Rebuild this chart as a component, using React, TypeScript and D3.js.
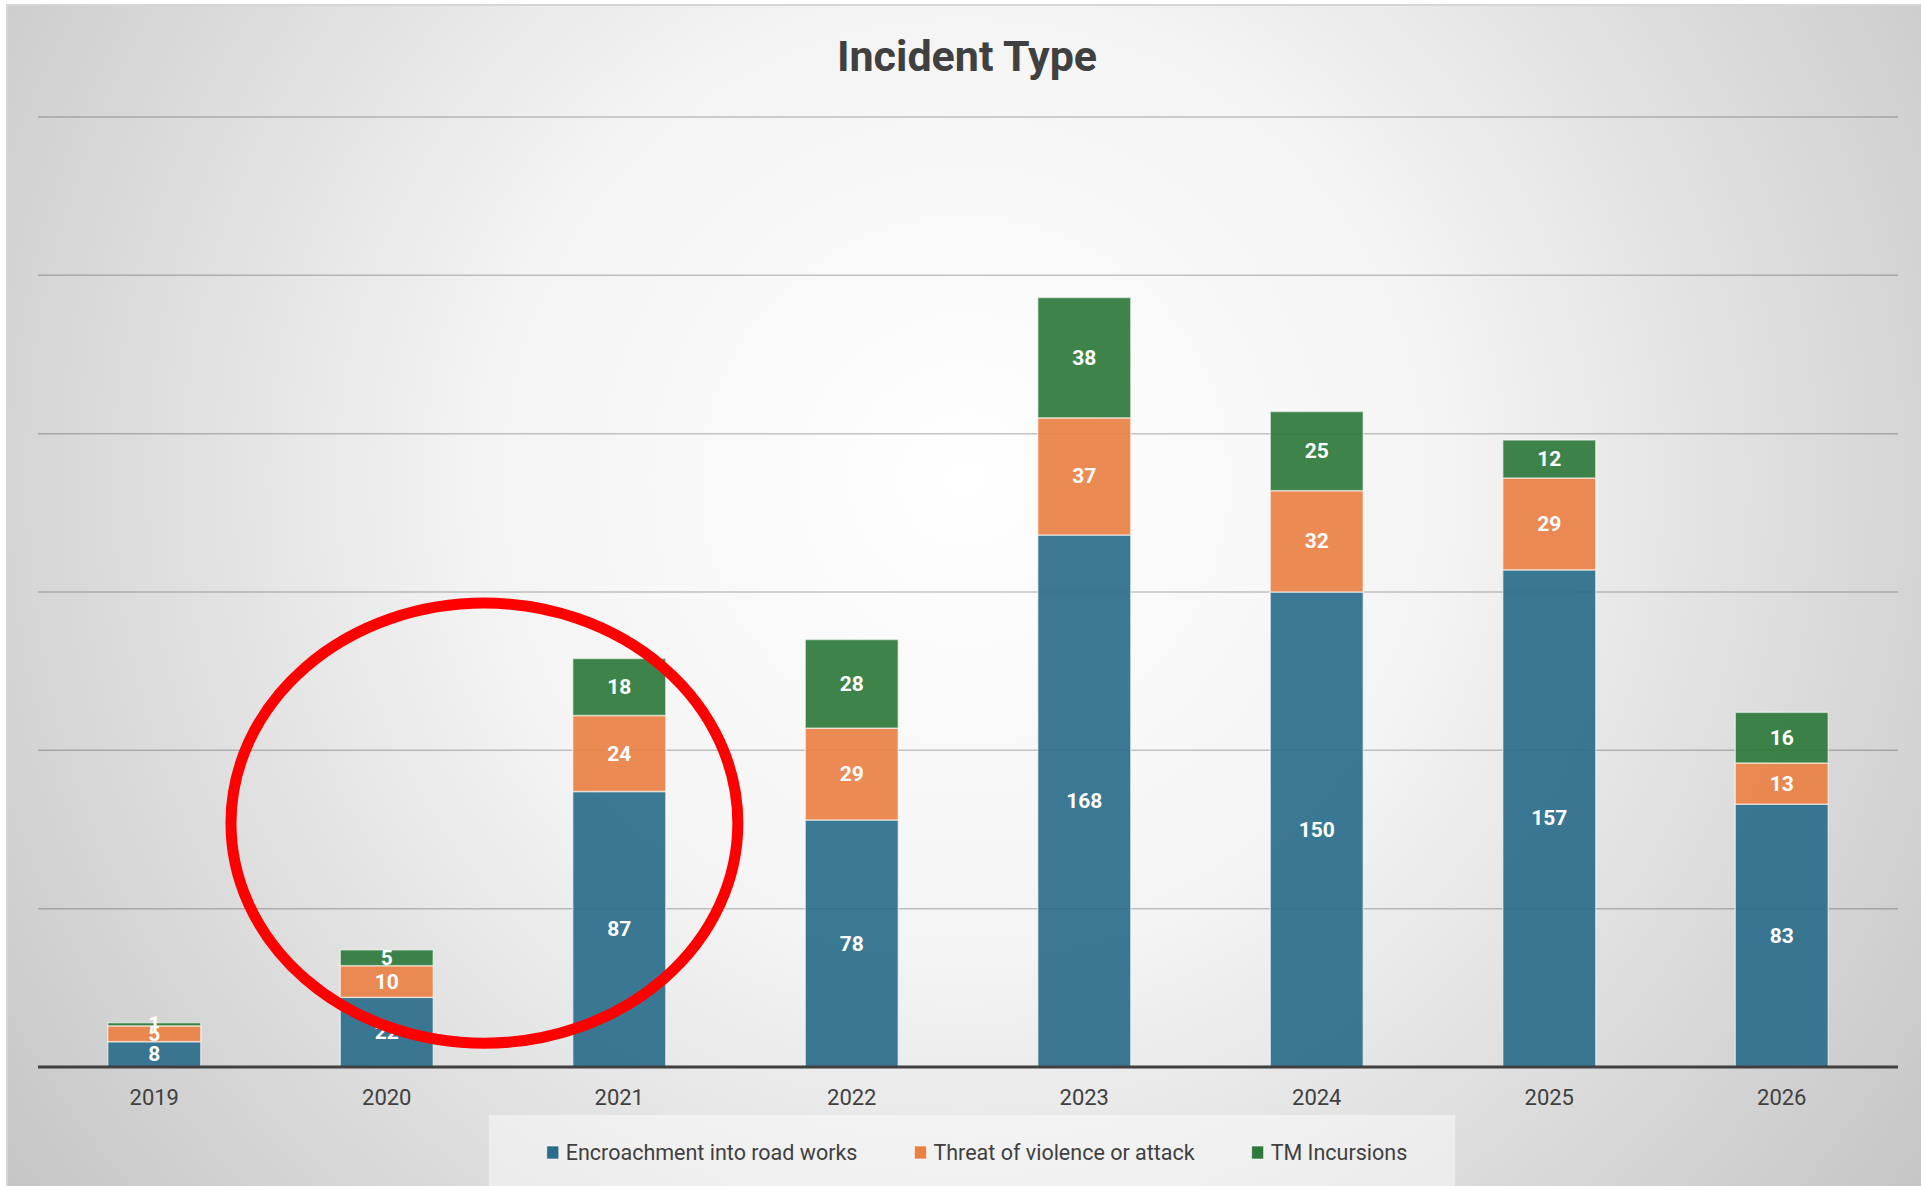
import React, { useEffect, useRef } from 'react';
import * as d3 from 'd3';

const years = ['2019', '2020', '2021', '2022', '2023', '2024', '2025', '2026'];
const encroachment = [8, 22, 87, 78, 168, 150, 157, 83];
const threat = [5, 10, 24, 29, 37, 32, 29, 13];
const tmIncursions = [1, 5, 18, 28, 38, 25, 12, 16];
const seriesKeys = ['encroachment', 'threat', 'tm'];
const seriesNames = ['Encroachment into road works', 'Threat of violence or attack', 'TM Incursions'];
const seriesColors = ['#2a6c8a', '#ea8044', '#2e7a3b'];
const yTicks = [50, 100, 150, 200, 250, 300];

// annotation ellipse, in data units (x: category steps from 2020, y: value)
const circleNote = { from: '2020', dx: 0.42, rx: 1.09, cy: 77, ry: 69.5 };

const WIDTH = 1921;
const HEIGHT = 1186;

const App: React.FC = () => {
  const ref = useRef<SVGSVGElement>(null);

  useEffect(() => {
    if (!ref.current) return;
    const svg = d3.select(ref.current);
    svg.selectAll('*').remove();

    const margin = { top: 117, right: 23, bottom: 119, left: 38 };
    const plotBottom = HEIGHT - margin.bottom;
    const plotRight = WIDTH - margin.right;
    const font = 'Roboto, "Open Sans", sans-serif';

    // Background
    const defs = svg.append('defs');
    const grad = defs.append('radialGradient')
      .attr('id', 'bg')
      .attr('gradientUnits', 'userSpaceOnUse')
      .attr('cx', 965).attr('cy', 480).attr('r', 1200);
    grad.append('stop').attr('offset', '0%').attr('stop-color', '#ffffff');
    grad.append('stop').attr('offset', '40%').attr('stop-color', '#f4f4f4');
    grad.append('stop').attr('offset', '100%').attr('stop-color', '#c5c5c5');

    svg.append('rect')
      .attr('x', 7).attr('y', 5)
      .attr('width', WIDTH).attr('height', HEIGHT)
      .attr('fill', 'url(#bg)')
      .attr('stroke', '#d6d6d6')
      .attr('stroke-width', 2);

    // Scales
    const x = d3.scaleBand<string>()
      .domain(years)
      .range([margin.left, plotRight])
      .paddingInner(0.6)
      .paddingOuter(0.3);

    const y = d3.scaleLinear()
      .domain([0, 300])
      .range([plotBottom, margin.top]);

    // Grid lines
    svg.append('g')
      .selectAll('line')
      .data(yTicks)
      .join('line')
      .attr('x1', margin.left)
      .attr('x2', plotRight)
      .attr('y1', d => y(d))
      .attr('y2', d => y(d))
      .attr('stroke', '#000')
      .attr('stroke-opacity', 0.22)
      .attr('stroke-width', 1.5);

    // Stacked bars
    const table = years.map((year, i) => ({
      year,
      encroachment: encroachment[i],
      threat: threat[i],
      tm: tmIncursions[i]
    }));
    const stacked = d3.stack<any>().keys(seriesKeys)(table);

    const layers = svg.append('g')
      .selectAll('g')
      .data(stacked)
      .join('g')
      .attr('fill', (_, i) => seriesColors[i]);

    layers.selectAll('rect')
      .data(d => d)
      .join('rect')
      .attr('x', d => x(d.data.year)!)
      .attr('width', x.bandwidth())
      .attr('y', d => y(d[1]))
      .attr('height', d => y(d[0]) - y(d[1]))
      .attr('fill-opacity', 0.92)
      .attr('stroke', 'rgba(255,255,255,0.55)')
      .attr('stroke-width', 1.5);

    // Data labels
    layers.selectAll('text')
      .data(d => d)
      .join('text')
      .attr('x', d => x(d.data.year)! + x.bandwidth() / 2)
      .attr('y', d => (y(d[0]) + y(d[1])) / 2)
      .attr('text-anchor', 'middle')
      .attr('dominant-baseline', 'central')
      .attr('fill', '#ffffff')
      .style('font-family', font)
      .style('font-weight', 700)
      .style('font-size', '21px')
      .text(d => d[1] - d[0]);

    // Baseline
    svg.append('line')
      .attr('x1', margin.left)
      .attr('x2', plotRight)
      .attr('y1', y(0))
      .attr('y2', y(0))
      .attr('stroke', '#404040')
      .attr('stroke-width', 3);

    // Category labels
    svg.append('g')
      .selectAll('text')
      .data(years)
      .join('text')
      .attr('x', d => x(d)! + x.bandwidth() / 2)
      .attr('y', plotBottom + 30)
      .attr('text-anchor', 'middle')
      .attr('dominant-baseline', 'central')
      .attr('fill', '#404040')
      .style('font-family', font)
      .style('font-size', '22px')
      .text(d => d);

    // Title
    svg.append('text')
      .attr('x', 967)
      .attr('y', 56)
      .attr('text-anchor', 'middle')
      .attr('dominant-baseline', 'central')
      .attr('fill', '#404040')
      .style('font-family', font)
      .style('font-weight', 700)
      .style('font-size', '43px')
      .text('Incident Type');

    // Legend
    const legendBox = svg.append('rect')
      .attr('y', 1115)
      .attr('height', 80)
      .attr('fill', '#ffffff')
      .attr('fill-opacity', 0.45);

    const legend = svg.append('g');
    let cursor = 0;
    seriesNames.forEach((name, i) => {
      const item = legend.append('g').attr('transform', `translate(${cursor},0)`);
      item.append('rect')
        .attr('x', 0).attr('y', 1146)
        .attr('width', 12).attr('height', 13)
        .attr('fill', seriesColors[i])
        .attr('stroke', 'rgba(255,255,255,0.6)')
        .attr('stroke-width', 1);
      const label = item.append('text')
        .attr('x', 19)
        .attr('y', 1152)
        .attr('dominant-baseline', 'central')
        .attr('fill', '#404040')
        .style('font-family', font)
        .style('font-size', '21.5px')
        .text(name);
      const w = (label.node() as SVGTextElement).getComputedTextLength();
      cursor += 19 + w + 57;
    });
    const total = cursor - 57;
    const legendStart = 977 - total / 2;
    legend.attr('transform', `translate(${legendStart},0)`);
    legendBox.attr('x', legendStart - 58).attr('width', total + 106);

    // Red annotation ellipse
    const step = x.step();
    const cx = x(circleNote.from)! + x.bandwidth() / 2 + circleNote.dx * step;
    svg.append('ellipse')
      .attr('cx', cx)
      .attr('cy', y(circleNote.cy))
      .attr('rx', circleNote.rx * step)
      .attr('ry', y(0) - y(circleNote.ry))
      .attr('fill', 'none')
      .attr('stroke', '#ff0000')
      .attr('stroke-width', 11);
  }, []);

  return (
    <svg
      ref={ref}
      width={WIDTH}
      height={HEIGHT}
      style={{ position: 'absolute', left: 0, top: 0, display: 'block', background: '#ffffff' }}
    />
  );
};

export default App;
